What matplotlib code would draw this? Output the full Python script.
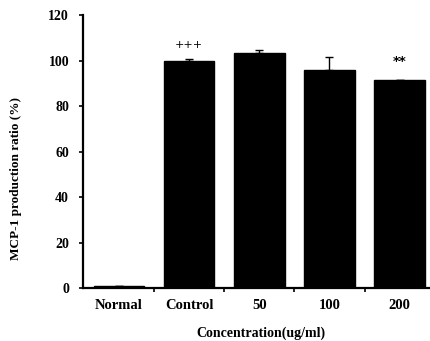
import matplotlib.pyplot as plt
import numpy as np

groups = ['Normal', 'Control', '50', '100', '200']
values = [1.0, 100.0, 103.3, 96.0, 91.3]
errors = [0.0, 0.5, 1.2, 5.5, 0.0]
marks = ['', '+++', '', '', '**']
mark_y = [0, 104.5, 0, 0, 96.5]

plt.rcParams['font.family'] = ['Liberation Serif', 'DejaVu Serif']
plt.rcParams['font.weight'] = 'bold'

fig = plt.figure(figsize=(4.30, 3.41), dpi=100)
ax = fig.add_axes([0.193, 0.155, 0.81, 0.801])

x = np.arange(len(groups))
ax.bar(x, values, width=0.72, color='black', edgecolor='black')
ax.errorbar(x, values, yerr=[np.zeros(len(errors)), errors], fmt='none',
            ecolor='black', elinewidth=1.0, capsize=2.8, capthick=1.0)

for i, m in enumerate(marks):
    if m:
        ax.text(x[i], mark_y[i], m, ha='center', va='bottom',
                fontsize=8 if m == '+++' else 9.5,
                fontweight='normal' if m == '+++' else 'bold',
                family=['DejaVu Sans'])

ax.set_xlim(-0.51, 4.45)
ax.set_ylim(0, 120)
ax.set_yticks([0, 20, 40, 60, 80, 100, 120])
ax.set_xticks(x)
ax.set_xticklabels(groups)
ax.set_xticks(np.arange(0.5, 4.5, 1), minor=True)
ax.tick_params(axis='x', which='major', length=0, pad=8, labelsize=10.5)
ax.tick_params(axis='x', which='minor', length=3, width=1.2, direction='out')
ax.tick_params(axis='y', length=3, width=1.2, labelsize=10, pad=7)

for s in ['top', 'right']:
    ax.spines[s].set_visible(False)
for s in ['left', 'bottom']:
    ax.spines[s].set_linewidth(1.6)

ax.set_ylabel('MCP-1 production ratio (%)', fontsize=9.5, fontweight='bold')
ax.yaxis.set_label_coords(-0.175, 0.4)
ax.set_xlabel('Concentration(ug/ml)', fontsize=10, fontweight='bold')
ax.xaxis.set_label_coords(0.51, -0.14)

fig.savefig('out.png', dpi=100)
